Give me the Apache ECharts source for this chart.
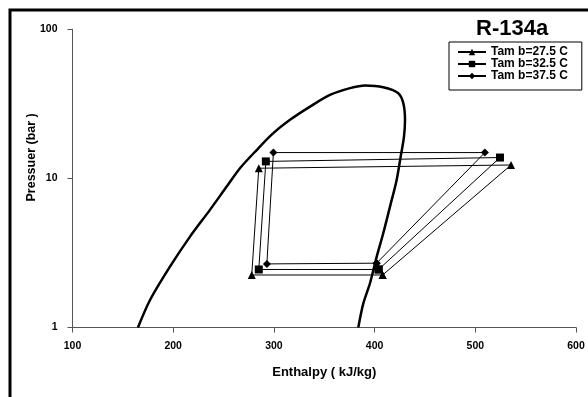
<!DOCTYPE html>
<html>
<head>
<meta charset="utf-8">
<script src="https://cdn.jsdelivr.net/npm/echarts@6/dist/echarts.min.js"></script>
<style>
html,body{margin:0;padding:0;background:#fff;}
#c{width:588px;height:397px;}
</style>
</head>
<body>
<div id="c"></div>
<script>
// Saturation dome of R-134a: [enthalpy kJ/kg, pressure bar]
var domeH = [165, 177, 196.8, 216.7, 236.5, 253.1, 266.3, 282.9, 299.4, 316, 335.9, 355.7, 375.6, 390.5, 408.6, 423.5, 428.5, 430.2, 429.2, 425.9, 421.9, 415.3, 408.6, 402.1, 395.4, 388.8, 383.8];
var domeP = [1.0, 1.53, 2.56, 4.07, 6.15, 8.81, 11.7, 15.5, 20.1, 24.7, 30.3, 36.3, 40.3, 42.0, 40.9, 37.3, 32.0, 24.7, 19.1, 14.0, 9.77, 6.47, 4.29, 2.99, 1.98, 1.45, 1.0];

// Cycle points (order: compressor inlet, discharge, condenser outlet, evaporator inlet, back to inlet)
var cycleNames = ['Tam b=27.5 C', 'Tam b=32.5 C', 'Tam b=37.5 C'];
var cycle1H = [408, 535.5, 285, 278, 408];
var cycle1P = [2.25, 12.3, 11.7, 2.25, 2.25];
var cycle2H = [404, 524.5, 292, 285, 404];
var cycle2P = [2.45, 13.8, 13.0, 2.45, 2.45];
var cycle3H = [402, 509.5, 299.5, 293, 402];
var cycle3P = [2.7, 14.9, 14.9, 2.67, 2.7];

var xTicks = [100, 200, 300, 400, 500, 600];
var yTicks = [1, 10, 100];

function pairs(h, p) { return h.map(function (v, i) { return [v, p[i]]; }); }

var FONT = 'Liberation Sans, Arial, sans-serif';
var chart = echarts.init(document.getElementById('c'), null, {renderer: 'canvas'});

function cycleSeries(name, h, p, symbol, size) {
  return {
    name: name, type: 'line', data: pairs(h, p),
    symbol: symbol, symbolSize: size, showSymbol: true,
    lineStyle: {color: '#000', width: 1},
    itemStyle: {color: '#000'},
    animation: false, z: 3
  };
}

chart.setOption({
  animation: false,
  backgroundColor: '#fff',
  title: {
    text: 'R-134a', left: 476, top: 18, padding: 0,
    textStyle: {fontFamily: FONT, fontSize: 22, fontWeight: 'bold', color: '#000'}
  },
  legend: {
    data: cycleNames, selectedMode: false,
    orient: 'vertical', left: 449, top: 42,
    padding: [4, 14, 8, 8], itemGap: 0,
    itemWidth: 28, itemHeight: 8,
    borderColor: '#000', borderWidth: 1,
    textStyle: {fontFamily: FONT, fontSize: 12, fontWeight: 'bold', color: '#000', lineHeight: 11}
  },
  graphic: [{
    type: 'rect', shape: {x: 10, y: 10, width: 620, height: 420},
    style: {fill: null, stroke: '#000', lineWidth: 3}, silent: true
  }],
  grid: {left: 72.5, right: 12, top: 29.3, bottom: 69.5, containLabel: false},
  xAxis: {
    type: 'value', min: 100, max: 600, interval: 100,
    name: 'Enthalpy ( kJ/kg)', nameLocation: 'middle', nameGap: 38,
    nameTextStyle: {fontFamily: FONT, fontSize: 13, fontWeight: 'bold', color: '#000'},
    axisLine: {lineStyle: {color: '#555', width: 1}},
    axisTick: {show: true, length: 5, lineStyle: {color: '#555'}},
    axisLabel: {fontFamily: FONT, fontSize: 10.5, fontWeight: 'bold', color: '#000', margin: 13,
      formatter: function (v) { return xTicks.indexOf(v) >= 0 ? String(v) : ''; }},
    splitLine: {show: false}
  },
  yAxis: {
    type: 'log', logBase: 10, min: 1, max: 100,
    name: 'Pressuer (bar )', nameLocation: 'middle', nameGap: 34, nameMoveOverlap: false,
    nameTextStyle: {fontFamily: FONT, fontSize: 12.5, fontWeight: 'bold', color: '#000', padding: [0, 0, 0, 42]},
    axisLine: {show: true, lineStyle: {color: '#555', width: 1}},
    axisTick: {show: true, length: 5, lineStyle: {color: '#555'}},
    axisLabel: {fontFamily: FONT, fontSize: 10.5, fontWeight: 'bold', color: '#000', margin: 15,
      formatter: function (v) { return yTicks.indexOf(Math.round(v)) >= 0 ? String(Math.round(v)) : ''; }},
    splitLine: {show: false}
  },
  series: [
    {
      name: 'dome', type: 'line', data: pairs(domeH, domeP),
      showSymbol: false, smooth: 0.3,
      lineStyle: {color: '#000', width: 2.5}, z: 2, animation: false
    },
    cycleSeries(cycleNames[0], cycle1H, cycle1P, 'triangle', 8),
    cycleSeries(cycleNames[1], cycle2H, cycle2P, 'rect', 8),
    cycleSeries(cycleNames[2], cycle3H, cycle3P, 'diamond', 8)
  ]
});
</script>
</body>
</html>
